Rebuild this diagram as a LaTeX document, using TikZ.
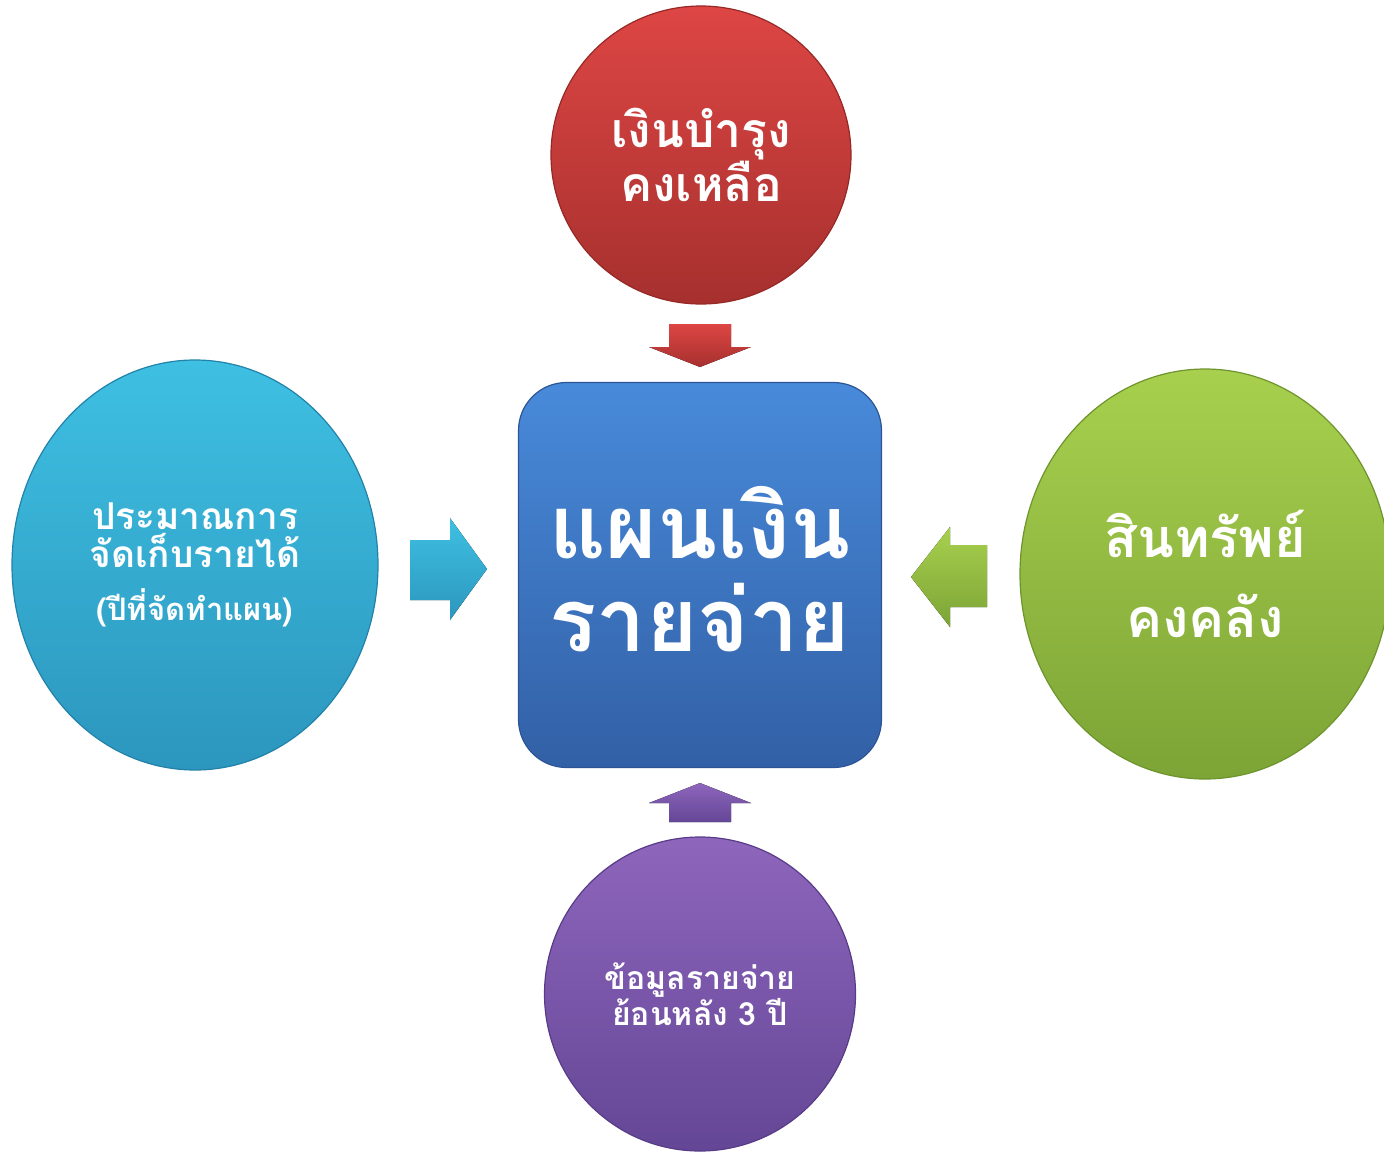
\documentclass[tikz,border=0pt]{standalone}
\usepackage{fontspec}
\newfontfamily\thai[Script=Thai]{Loma}
\usetikzlibrary{shapes.geometric}
\definecolor{redT}{RGB}{221,70,68}
\definecolor{redB}{RGB}{166,48,46}
\definecolor{redE}{RGB}{150,40,38}
\definecolor{blueT}{RGB}{72,138,218}
\definecolor{blueB}{RGB}{50,96,166}
\definecolor{blueE}{RGB}{45,85,150}
\definecolor{cyanT}{RGB}{62,192,226}
\definecolor{cyanB}{RGB}{44,150,190}
\definecolor{cyanE}{RGB}{35,130,170}
\definecolor{greenT}{RGB}{168,208,78}
\definecolor{greenB}{RGB}{124,164,54}
\definecolor{greenE}{RGB}{110,148,45}
\definecolor{purT}{RGB}{142,102,188}
\definecolor{purB}{RGB}{100,70,150}
\definecolor{purE}{RGB}{88,60,135}
\tikzset{
  bubble/.style={ellipse, inner sep=0pt, text=white, align=center, line width=1.2pt},
  blockarrow/.style={line width=0.6pt},
}
\begin{document}
\begin{tikzpicture}[x=1pt,y=-1pt]
\useasboundingbox (0,0) rectangle (1384,1154);
% red circle
\node[bubble, minimum width=300pt, minimum height=298pt, top color=redT, bottom color=redB, draw=redE,
  font=\thai\bfseries\fontsize{48}{51}\selectfont] (red) at (701,155) {เงินบำรุง\\คงเหลือ};
% left cyan ellipse
\node[bubble, minimum width=366pt, minimum height=410pt, top color=cyanT, bottom color=cyanB, draw=cyanE,
  font=\thai\bfseries\fontsize{37}{38}\selectfont] (cyan) at (195,565)
  {ประมาณการ\\จัดเก็บรายได้\\[15pt]\fontsize{31}{33}\selectfont (ปีที่จัดทำแผน)};
% right green ellipse
\node[bubble, minimum width=370pt, minimum height=410pt, top color=greenT, bottom color=greenB, draw=greenE,
  font=\thai\bfseries\fontsize{54}{80}\selectfont] (green) at (1205,574) {สินทรัพย์\\คงคลัง};
% purple circle
\node[bubble, minimum width=311pt, minimum height=314pt, top color=purT, bottom color=purB, draw=purE,
  font=\thai\bfseries\fontsize{32}{34}\selectfont] (pur) at (700,994) {ข้อมูลรายจ่าย\\ย้อนหลัง 3 ปี};
% center box
\node[rectangle, rounded corners=48pt, minimum width=363pt, minimum height=385pt, top color=blueT, bottom color=blueB,
  draw=blueE, line width=1.2pt] (plan) at (700,575) {};
\node[text=white, align=center, font=\thai\bfseries\fontsize{88}{93}\selectfont] (plantext) at (700,569) {แผนเงิน\\รายจ่าย};
% arrows
\fill[blockarrow, top color=redT, bottom color=redB]
  (669,324) -- (731,324) -- (731,347) -- (751,347) -- (700,367) -- (649,347) -- (669,347) -- cycle;
\fill[blockarrow, top color=purT, bottom color=purB]
  (669,822) -- (731,822) -- (731,803) -- (751,803) -- (700,783) -- (649,803) -- (669,803) -- cycle;
\fill[blockarrow, top color=cyanT, bottom color=cyanB]
  (410,540) -- (450,540) -- (450,518) -- (487,569) -- (450,620) -- (450,600) -- (410,600) -- cycle;
\fill[blockarrow, top color=greenT, bottom color=greenB]
  (987,545) -- (950,545) -- (950,527) -- (911,577) -- (950,627) -- (950,607) -- (987,607) -- cycle;
\end{tikzpicture}
\end{document}
